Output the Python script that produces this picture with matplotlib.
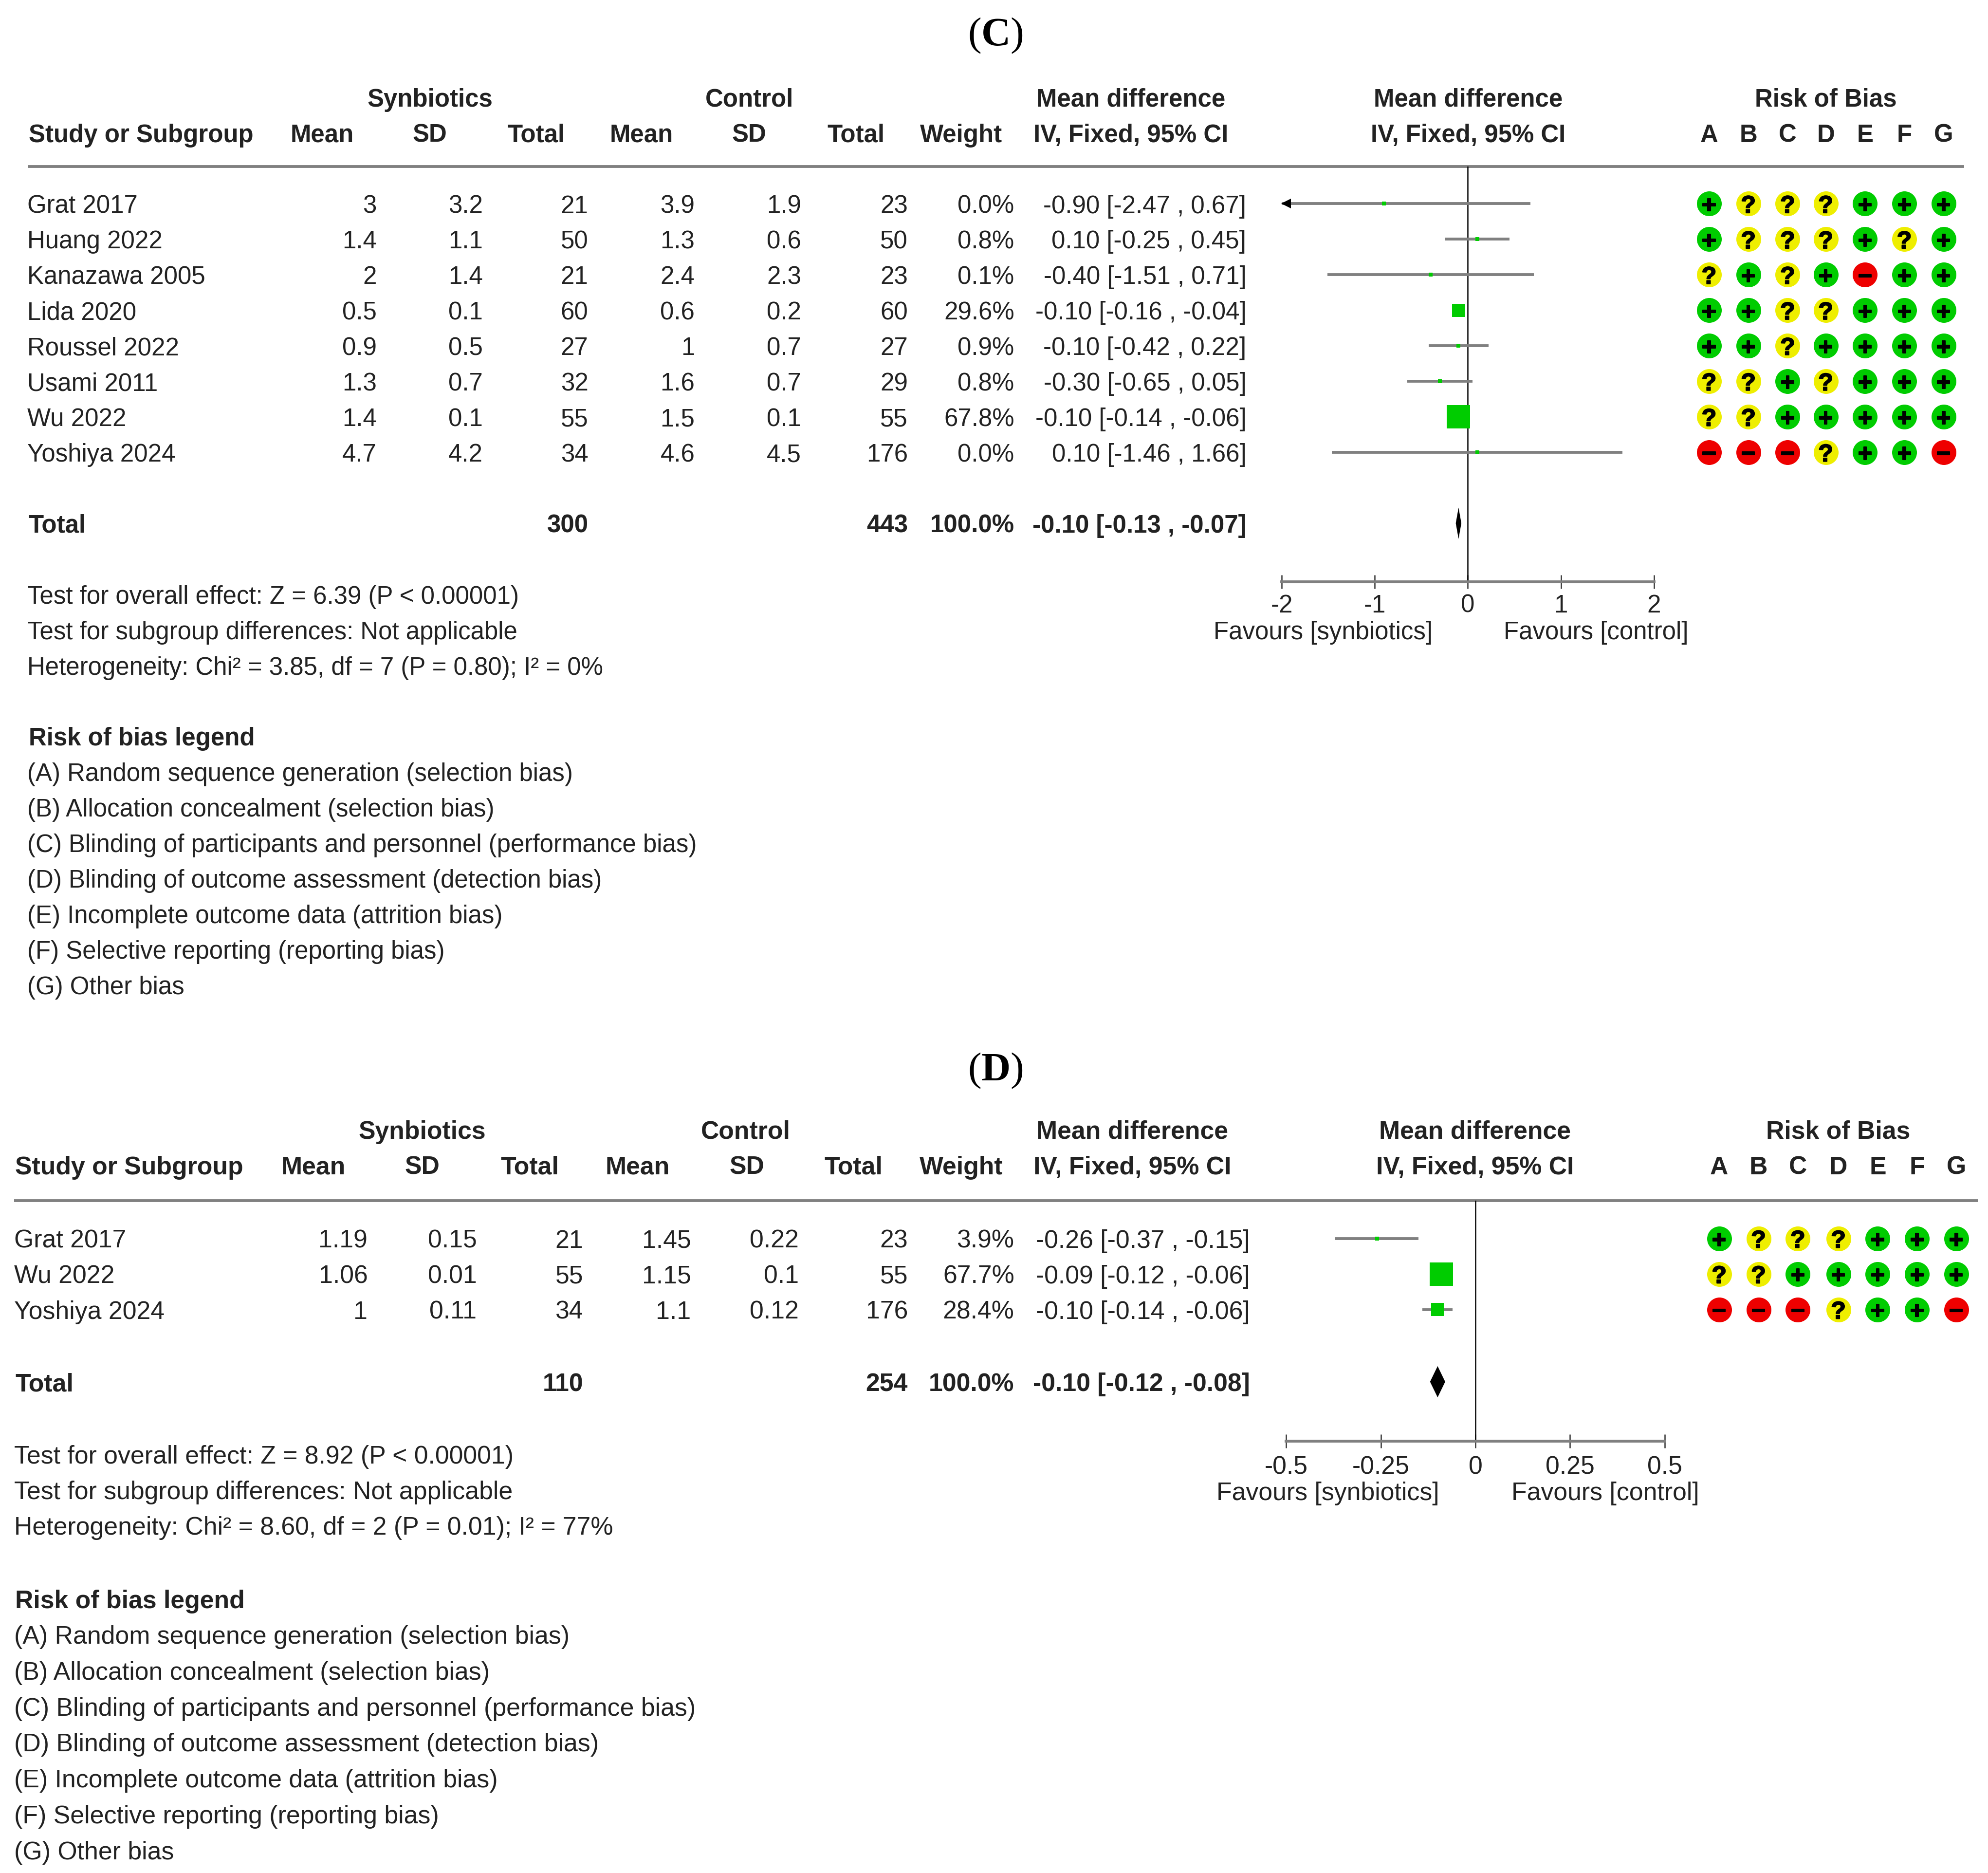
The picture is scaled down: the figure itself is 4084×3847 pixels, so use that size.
import numpy as np
import matplotlib
matplotlib.use('Agg')
import matplotlib.pyplot as plt
import matplotlib.patheffects as pe
from matplotlib.transforms import offset_copy

plt.rcParams['font.family'] = ['Liberation Sans', 'DejaVu Sans']
plt.rcParams['mathtext.fontset'] = 'custom'
plt.rcParams['mathtext.rm'] = 'Liberation Serif'
plt.rcParams['mathtext.bf'] = 'Liberation Serif:bold'

# ---- data, panel C ----
c_study = ['Grat 2017', 'Huang 2022', 'Kanazawa 2005', 'Lida 2020', 'Roussel 2022',
           'Usami 2011', 'Wu 2022', 'Yoshiya 2024']
c_mean_s = [3, 1.4, 2, 0.5, 0.9, 1.3, 1.4, 4.7]
c_sd_s = [3.2, 1.1, 1.4, 0.1, 0.5, 0.7, 0.1, 4.2]
c_n_s = [21, 50, 21, 60, 27, 32, 55, 34]
c_mean_c = [3.9, 1.3, 2.4, 0.6, 1, 1.6, 1.5, 4.6]
c_sd_c = [1.9, 0.6, 2.3, 0.2, 0.7, 0.7, 0.1, 4.5]
c_n_c = [23, 50, 23, 60, 27, 29, 55, 176]
c_weight = [0.0, 0.8, 0.1, 29.6, 0.9, 0.8, 67.8, 0.0]
c_md = [-0.90, 0.10, -0.40, -0.10, -0.10, -0.30, -0.10, 0.10]
c_lo = [-2.47, -0.25, -1.51, -0.16, -0.42, -0.65, -0.14, -1.46]
c_hi = [0.67, 0.45, 0.71, -0.04, 0.22, 0.05, -0.06, 1.66]
c_risk = ['+???+++', '+???+?+', '?+?+-++', '++??+++', '++?++++', '??+?+++', '??+++++', '---?++-']
c_total = [300, 443, -0.10, -0.13, -0.07]
c_ticks = [-2, -1, 0, 1, 2]
c_tick_labels = ['-2', '-1', '0', '1', '2']
c_notes = ['Test for overall effect: Z = 6.39 (P < 0.00001)',
           'Test for subgroup differences: Not applicable',
           'Heterogeneity: Chi² = 3.85, df = 7 (P = 0.80); I² = 0%']

# ---- data, panel D ----
d_study = ['Grat 2017', 'Wu 2022', 'Yoshiya 2024']
d_mean_s = [1.19, 1.06, 1]
d_sd_s = [0.15, 0.01, 0.11]
d_n_s = [21, 55, 34]
d_mean_c = [1.45, 1.15, 1.1]
d_sd_c = [0.22, 0.1, 0.12]
d_n_c = [23, 55, 176]
d_weight = [3.9, 67.7, 28.4]
d_md = [-0.26, -0.09, -0.10]
d_lo = [-0.37, -0.12, -0.14]
d_hi = [-0.15, -0.06, -0.06]
d_risk = ['+???+++', '??+++++', '---?++-']
d_total = [110, 254, -0.10, -0.12, -0.08]
d_ticks = [-0.5, -0.25, 0, 0.25, 0.5]
d_tick_labels = ['-0.5', '-0.25', '0', '0.25', '0.5']
d_notes = ['Test for overall effect: Z = 8.92 (P < 0.00001)',
           'Test for subgroup differences: Not applicable',
           'Heterogeneity: Chi² = 8.60, df = 2 (P = 0.01); I² = 77%']

legend_lines = ['(A) Random sequence generation (selection bias)',
                '(B) Allocation concealment (selection bias)',
                '(C) Blinding of participants and personnel (performance bias)',
                '(D) Blinding of outcome assessment (detection bias)',
                '(E) Incomplete outcome data (attrition bias)',
                '(F) Selective reporting (reporting bias)',
                '(G) Other bias']
risk_letters = list('ABCDEFG')

# ---- layout, in units of the shrunk picture ----
W, H = 1568.0, 1477.4
ROW = 28.0
GRAY = '#808080'
GREEN, YELLOW, RED = '#00CC00', '#EEEE00', '#EE0000'
TEXT = '#222222'

fig = plt.figure(figsize=(40.84, 38.48), dpi=100, facecolor='white')
page = fig.add_axes([0, 0, 1, 1])
page.set_xlim(0, W)
page.set_ylim(H, 0)
page.axis('off')


def put(x, y, s, size, ha='left', bold=False, color=TEXT):
    # y is the middle of the row, text sits on a baseline a bit below it
    page.text(x, y + 7.0, s, ha=ha, va='baseline', fontsize=size, color=color,
              fontweight='bold' if bold else 'normal')


def draw_panel(p, study, mean_s, sd_s, n_s, mean_c, sd_c, n_c, weight, md, lo, hi,
               risk, total, ticks, tick_labels, notes):
    y0 = p['row0']
    fs = p['fs']
    put(p['study_x'] + 1, p['head2'], 'Study or Subgroup', fs, bold=True)
    put(p['syn'], p['head1'], 'Synbiotics', fs, ha='center', bold=True)
    put(p['ctl'], p['head1'], 'Control', fs, ha='center', bold=True)
    for x, s in zip(p['head_x'], ['Mean', 'SD', 'Total', 'Mean', 'SD', 'Total', 'Weight']):
        put(x, p['head2'], s, fs, ha='center', bold=True)
    put(p['iv_x'], p['head1'], 'Mean difference', fs, ha='center', bold=True)
    put(p['iv_x'], p['head2'], 'IV, Fixed, 95% CI', fs, ha='center', bold=True)
    put(p['zero'], p['head1'], 'Mean difference', fs, ha='center', bold=True)
    put(p['zero'], p['head2'], 'IV, Fixed, 95% CI', fs, ha='center', bold=True)
    put(p['risk_x'][3], p['head1'], 'Risk of Bias', fs, ha='center', bold=True)
    for x, s in zip(p['risk_x'], risk_letters):
        put(x, p['head2'], s, fs, ha='center', bold=True)
    page.plot(p['line_x'], [p['line_y'], p['line_y']], color=GRAY, lw=4.2, solid_capstyle='butt')

    # table rows
    for i, name in enumerate(study):
        y = y0 + i * ROW
        put(p['study_x'], y, name, fs)
        cols = [mean_s[i], sd_s[i], n_s[i], mean_c[i], sd_c[i], n_c[i], f'{weight[i]:.1f}%']
        for x, v in zip(p['col_x'], cols):
            put(x, y, str(v), fs, ha='right')
        put(p['ci_x'], y, f'{md[i]:.2f} [{lo[i]:.2f} , {hi[i]:.2f}]', fs, ha='right')
        # risk of bias dots
        for x, r in zip(p['risk_x'], risk[i]):
            col = {'+': GREEN, '?': YELLOW, '-': RED}[r]
            page.scatter([x], [y], s=(51 * 0.72) ** 2, color=col, linewidths=0, zorder=3)
            sym = {'+': '+', '?': '?', '-': '\u2212'}[r]
            t = page.text(x, y + 0.3, sym, ha='center', va='center_baseline', fontsize=36,
                          fontweight='bold', color='black', zorder=4)
            t.set_path_effects([pe.withStroke(linewidth=1.5, foreground='black')])

    ty = p['total_y']
    put(p['study_x'] + 1, ty, 'Total', fs, bold=True)
    put(p['col_x'][2], ty, str(total[0]), fs, ha='right', bold=True)
    put(p['col_x'][5], ty, str(total[1]), fs, ha='right', bold=True)
    put(p['col_x'][6], ty, '100.0%', fs, ha='right', bold=True)
    put(p['ci_x'], ty, f'{total[2]:.2f} [{total[3]:.2f} , {total[4]:.2f}]', fs, ha='right', bold=True)

    for i, s in enumerate(notes):
        put(p['study_x'], p['notes_y'] + i * ROW, s, fs)
    put(p['study_x'] + 1, p['legend_y'], 'Risk of bias legend', fs, bold=True)
    for i, s in enumerate(legend_lines):
        put(p['study_x'], p['legend_y'] + (i + 1) * p['legend_row'], s, fs)

    put(p['fav_l'], p['fav_y'], 'Favours [synbiotics]', fs, ha='center')
    put(p['fav_r'], p['fav_y'], 'Favours [control]', fs, ha='center')

    # forest plot, on its own axes so the x scale comes from the data
    x_a, x_b = p['axis_x']
    ax = fig.add_axes([x_a / W, 1 - p['axis_y'] / H, (x_b - x_a) / W,
                       (p['axis_y'] - p['line_y']) / H])
    ax.patch.set_alpha(0)
    ax.set_xlim(ticks[0], ticks[-1])
    ax.set_ylim((p['axis_y'] - y0) / ROW, (p['line_y'] - y0) / ROW)
    for side in ['top', 'left', 'right']:
        ax.spines[side].set_visible(False)
    ax.spines['bottom'].set_color(GRAY)
    ax.spines['bottom'].set_linewidth(4.2)
    ax.set_yticks([])
    ax.set_xticks(ticks)
    ax.set_xticklabels(tick_labels, fontsize=fs, color=TEXT)
    ax.tick_params(axis='x', direction='inout', length=20, width=1.8, color='#333333', pad=p['pad'])
    ax.axvline(0, color='black', lw=1.8, zorder=2)

    rows = np.arange(len(study))
    ax.hlines(rows, lo, hi, color=GRAY, lw=4.2, zorder=3)
    side_px = np.maximum(8, 48 * (np.array(weight) / 67.8) ** 0.7)
    ax.scatter(md, rows, marker='s', s=(side_px * 0.72) ** 2, color=GREEN, linewidths=0, zorder=4)
    # off-scale CI gets an arrow head, its tip on the axis end
    tip = offset_copy(ax.transData, fig=fig, x=6.5, y=0, units='points')
    for i in rows:
        if lo[i] < ticks[0]:
            ax.plot(ticks[0], i, marker='<', ms=14, color='black', mew=0, zorder=5,
                    clip_on=False, transform=tip)
    r_total = (ty - y0) / ROW
    ax.fill([total[3], total[2], total[4], total[2]],
            [r_total, r_total - 0.44, r_total, r_total + 0.44], color='black', lw=0, zorder=4)


panel_c = dict(fs=36.7, pad=7.5, head1=77, head2=105, line_y=131.5, line_x=[22, 1549], row0=161,
               total_y=413, notes_y=469, legend_y=581, legend_row=28.0, study_x=21.5, syn=339, ctl=591,
               head_x=[254, 339, 423, 506, 591, 675, 758], iv_x=892,
               col_x=[297, 381, 464, 548, 632, 716, 800], ci_x=983, zero=1158,
               risk_x=[1348, 1379, 1410, 1440, 1471, 1502, 1533],
               axis_x=[1011, 1304.5], axis_y=459, fav_y=497, fav_l=1043.5, fav_r=1259)
panel_d = dict(fs=37.3, pad=10, head1=891, head2=919, line_y=947, line_x=[11, 1560], row0=977,
               total_y=1090, notes_y=1147, legend_y=1261, legend_row=28.3, study_x=11, syn=333, ctl=588,
               head_x=[247, 333, 418, 503, 589, 673, 758], iv_x=893,
               col_x=[290, 376, 460, 545, 630, 716, 800], ci_x=986, zero=1163.5,
               risk_x=[1356, 1387, 1418, 1450, 1481, 1512, 1543],
               axis_x=[1014.5, 1313], axis_y=1137, fav_y=1176, fav_l=1047.5, fav_r=1266)

draw_panel(panel_c, c_study, c_mean_s, c_sd_s, c_n_s, c_mean_c, c_sd_c, c_n_c, c_weight,
           c_md, c_lo, c_hi, c_risk, c_total, c_ticks, c_tick_labels, c_notes)
draw_panel(panel_d, d_study, d_mean_s, d_sd_s, d_n_s, d_mean_c, d_sd_c, d_n_c, d_weight,
           d_md, d_lo, d_hi, d_risk, d_total, d_ticks, d_tick_labels, d_notes)

page.text(785, 36, r'$\mathrm{(}\mathbf{C}\mathrm{)}$', ha='center', va='baseline', fontsize=60, color='black')
page.text(785, 852, r'$\mathrm{(}\mathbf{D}\mathrm{)}$', ha='center', va='baseline', fontsize=60, color='black')

fig.savefig('out.png', dpi=100, facecolor='white')
